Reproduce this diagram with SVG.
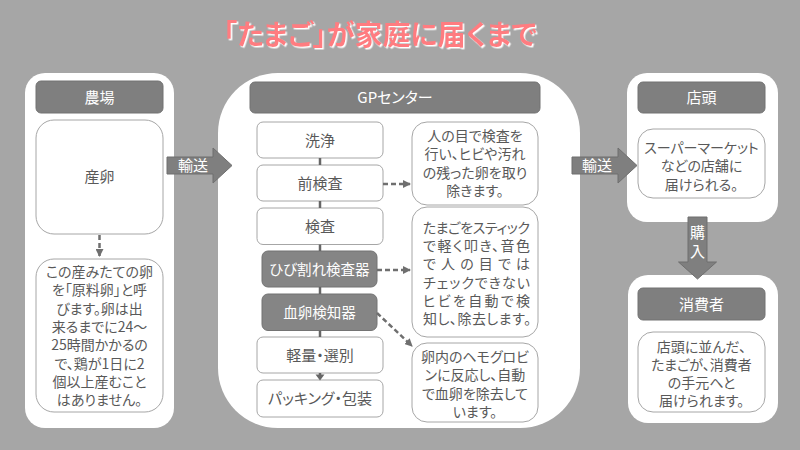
<svg xmlns="http://www.w3.org/2000/svg" width="800" height="450" viewBox="0 0 800 450">
<defs>
<style>
text{font-family:"Noto Sans CJK JP","Noto Sans CJK SC",sans-serif;font-feature-settings:"palt" 1;}
.panel{fill:#ffffff;}
.hdr{fill:#7f7f7f;stroke:#737373;stroke-width:1;}
.box{fill:#ffffff;stroke:#a6a6a6;stroke-width:1;}
.dbox{fill:#858585;stroke:#737373;stroke-width:1;}
.ht{fill:#ffffff;font-size:15px;text-anchor:middle;}
.lt{fill:#595959;font-size:15px;text-anchor:middle;}
.bt{fill:#595959;font-size:14px;text-anchor:middle;}
.jt{fill:#595959;font-size:14px;}
.wt{fill:#ffffff;font-size:14.5px;text-anchor:middle;}
.big{fill:#7f7f7f;stroke:#6f6f6f;stroke-width:1;}
.dash{fill:none;stroke:#6f6f6f;stroke-width:2.5;stroke-dasharray:5 3;}
.flow{fill:none;stroke:#666666;stroke-width:2.5;}
</style>
<filter id="shadow" x="-5%" y="-20%" width="110%" height="140%">
<feDropShadow dx="1.5" dy="1.5" stdDeviation="0.3" flood-color="#ffffff" flood-opacity="1"/>
</filter>
<marker id="ah" markerWidth="8" markerHeight="8" refX="7" refY="4" orient="auto" markerUnits="userSpaceOnUse">
<path d="M0,0 L8,4 L0,8 Z" fill="#6f6f6f"/>
</marker>
</defs>
<rect width="800" height="450" fill="#a6a6a6"/>
<g id="title">
<text x="380" y="45" font-size="28" font-weight="700" text-anchor="middle" fill="#ff7c80" filter="url(#shadow)">「たまご」が家庭に届くまで</text>
</g>
<g id="farm">
<rect class="panel" x="25" y="73" width="149" height="355" rx="20"/>
<rect class="hdr" x="36" y="81" width="127" height="32" rx="5"/>
<text class="ht" x="99.5" y="102.5">農場</text>
</g>
<g id="egg-laying">
<rect class="box" x="36" y="120" width="127" height="114" rx="18"/>
<text class="lt" x="99.5" y="182">産卵</text>
</g>
<g id="raw-egg-note">
<rect class="box" x="36" y="259" width="127" height="153" rx="18"/>
<text class="bt"><tspan x="99.5" y="277">この産みたての卵</tspan><tspan x="99.5" y="295.3">を「原料卵」と呼</tspan><tspan x="99.5" y="313.6">びます。卵は出</tspan><tspan x="99.5" y="332">来るまでに24～</tspan><tspan x="99.5" y="350.3">25時間かかるの</tspan><tspan x="99.5" y="368.6">で、鶏が1日に2</tspan><tspan x="99.5" y="387">個以上産むこと</tspan><tspan x="99.5" y="405.3">はありません。</tspan></text>
</g>
<g id="gp-center">
<rect class="panel" x="218" y="73" width="362" height="355" rx="60"/>
<rect class="hdr" x="250" y="82" width="290" height="31" rx="5"/>
<text class="ht" x="395" y="102.5" font-size="14">GPセンター</text>
</g>
<g id="wash"><rect class="box" x="257" y="122" width="126" height="36" rx="6"/><text class="lt" x="320" y="145.5">洗浄</text></g>
<g id="pre-inspection"><rect class="box" x="257" y="165" width="126" height="36" rx="6"/><text class="lt" x="320" y="188.5">前検査</text></g>
<g id="inspection"><rect class="box" x="257" y="208" width="126" height="36.5" rx="6"/><text class="lt" x="320" y="231.5">検査</text></g>
<g id="crack-detector"><rect class="dbox" x="262" y="251" width="115" height="36" rx="6"/><text class="wt" x="319.5" y="274.5">ひび割れ検査器</text></g>
<g id="blood-detector"><rect class="dbox" x="262" y="294" width="115" height="36.5" rx="6"/><text class="wt" x="319.5" y="317.5">血卵検知器</text></g>
<g id="weighing"><rect class="box" x="257" y="337" width="126" height="36" rx="6"/><text class="lt" x="320" y="360.5">軽量・選別</text></g>
<g id="packing"><rect class="box" x="257" y="380" width="126" height="37" rx="6"/><text class="lt" x="320" y="403.5">パッキング・包装</text></g>
<g id="note-pre">
<rect class="box" x="412" y="122" width="126" height="83" rx="15"/>
<text class="bt"><tspan x="475" y="141">人の目で検査を</tspan><tspan x="475" y="159.3">行い、ヒビや汚れ</tspan><tspan x="475" y="177.6">の残った卵を取り</tspan><tspan x="475" y="195.9">除きます。</tspan></text>
</g>
<g id="note-crack">
<rect class="box" x="412" y="207" width="126" height="130" rx="15"/>
<text class="jt"><tspan x="423" y="232.8" textLength="107" lengthAdjust="spacing">たまごをスティック</tspan><tspan x="423" y="251.1" textLength="107" lengthAdjust="spacing">で軽く叩き、音色</tspan><tspan x="423" y="269.4" textLength="107" lengthAdjust="spacing">で人の目では</tspan><tspan x="423" y="287.7" textLength="107" lengthAdjust="spacing">チェックできない</tspan><tspan x="423" y="306" textLength="107" lengthAdjust="spacing">ヒビを自動で検</tspan><tspan x="423" y="324.3" textLength="108" lengthAdjust="spacing">知し、除去します。</tspan></text>
</g>
<g id="note-blood">
<rect class="box" x="412" y="343" width="126" height="79" rx="15"/>
<text class="bt"><tspan x="475" y="362">卵内のヘモグロビ</tspan><tspan x="475" y="380.3">ンに反応し、自動</tspan><tspan x="475" y="398.6">で血卵を除去して</tspan><tspan x="475" y="416.9">います。</tspan></text>
</g>
<g id="store">
<rect class="panel" x="627" y="73" width="151" height="149" rx="20"/>
<rect class="hdr" x="638" y="82" width="127" height="31" rx="5"/>
<text class="ht" x="701.5" y="102.5">店頭</text>
<rect class="box" x="638" y="129" width="127" height="69" rx="15"/>
<text class="bt"><tspan x="701.5" y="153">スーパーマーケット</tspan><tspan x="701.5" y="171.3">などの店舗に</tspan><tspan x="701.5" y="189.6">届けられる。</tspan></text>
</g>
<g id="consumer">
<rect class="panel" x="628" y="275" width="150" height="148" rx="20"/>
<rect class="hdr" x="638" y="288" width="127" height="32" rx="5"/>
<text class="ht" x="701.5" y="309.5">消費者</text>
<rect class="box" x="638" y="332" width="127" height="80" rx="15"/>
<text class="bt"><tspan x="701.5" y="351.5">店頭に並んだ、</tspan><tspan x="701.5" y="369.8">たまごが、消費者</tspan><tspan x="701.5" y="388.1">の手元へと</tspan><tspan x="701.5" y="406.4">届けられます。</tspan></text>
</g>
<g id="connectors">
<line class="dash" x1="99.5" y1="235" x2="99.5" y2="256" marker-end="url(#ah)"/>
<line class="flow" x1="320" y1="158" x2="320" y2="165"/>
<line class="flow" x1="320" y1="201" x2="320" y2="208"/>
<line class="flow" x1="320" y1="244.5" x2="320" y2="251"/>
<line class="flow" x1="320" y1="287" x2="320" y2="294"/>
<line class="flow" x1="320" y1="330.5" x2="320" y2="337"/>
<line class="flow" x1="320" y1="373" x2="320" y2="375"/>
<path d="M315.5,374.5 L324.5,374.5 L320,380.5 Z" fill="#666666"/>
<line class="dash" x1="383" y1="184" x2="410" y2="184" marker-end="url(#ah)"/>
<line class="dash" x1="377" y1="270" x2="410" y2="270" marker-end="url(#ah)"/>
<line class="dash" x1="377" y1="313" x2="412" y2="346" marker-end="url(#ah)"/>
<g id="transport-1">
<path class="big" d="M167,157 L213,157 L213,148 L232,165.5 L213,183 L213,174 L167,174 Z"/>
<text class="ht" x="193" y="170.5">輸送</text>
</g>
<g id="transport-2">
<path class="big" d="M572,157 L618,157 L618,148 L637,165.5 L618,183 L618,174 L572,174 Z"/>
<text class="ht" x="597" y="170.5">輸送</text>
</g>
<g id="purchase">
<path class="big" d="M688,217 L707,217 L707,262 L716.5,262 L697.5,279 L678.5,262 L688,262 Z"/>
<text class="ht" font-size="14"><tspan x="697.5" y="237.5">購</tspan><tspan x="697.5" y="257">入</tspan></text>
</g>
</g>
</svg>
